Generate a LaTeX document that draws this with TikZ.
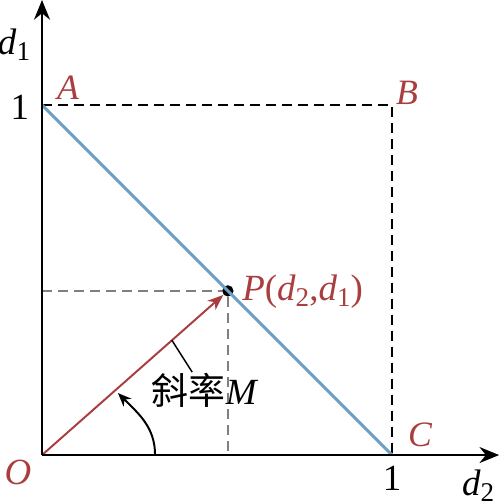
\documentclass[tikz,border=0pt]{standalone}
\usepackage{fontspec}
\setmainfont{Liberation Serif}
\newfontfamily\cjk{Noto Sans CJK SC}
\usepackage{tikz}
\usetikzlibrary{positioning,arrows.meta}
\definecolor{vecred}{RGB}{170,62,62}
\definecolor{lineblue}{RGB}{110,160,196}
\newcommand{\low}[1]{\raisebox{-0.35ex}{\fontsize{11}{12}\selectfont #1}}

\begin{document}
\begin{tikzpicture}[x=5cm, y=5cm, font=\fontsize{15}{17}\selectfont, inner sep=0pt,
        axis/.style = {draw, line width=0.8pt, -{Stealth[length=8pt, width=6.5pt]}},
        box/.style = {draw, line width=0.6pt, dash pattern=on 4pt off 2.5pt},
        proj/.style = {draw, gray, line width=0.6pt, dash pattern=on 4pt off 2.5pt},
        corner/.style = {text=vecred, font=\fontsize{14.5}{17}\selectfont\itshape}]
    \useasboundingbox (-0.12,-0.137) rectangle (1.306,1.3);
    \coordinate (O) at (0,0);
    \coordinate (A) at (0,1);
    \coordinate (B) at (1,1);
    \coordinate (C) at (1,0);
    \coordinate (X) at (1.306,0);
    \coordinate (Y) at (0,1.3);
    \node[circle, fill, minimum size=4.6pt] (P) at (0.531,0.469) {};
    \coordinate (Px) at (0.531,0);
    \coordinate (Py) at (0,0.469);

    \draw[box] (A) -- (B) -- (C);
    \draw[proj] (Py) -- (P) -- (Px);
    \draw[lineblue, line width=1.2pt] (A) -- (C);
    \draw[vecred, line width=0.8pt, -{Stealth[length=6.5pt, width=5pt]}] (O) -- (P);
    \draw[axis] (O) -- (X);
    \draw[axis] (O) -- (Y);

    \node (d1) at (-0.08,1.171) {\textit{d}\low{1}};
    \node (d2) at (1.246,-0.088) {\textit{d}\low{2}};
    \node (one1) at (-0.063,0.994) {1};
    \node (one2) at (1.0,-0.066) {1};
    \node[corner, font=\fontsize{15}{17}\selectfont\itshape] (o) at (-0.069,-0.049) {O};
    \node[corner] (a) at (0.074,1.049) {A};
    \node[corner] (b) at (1.043,1.034) {B};
    \node[corner] (c) at (1.08,0.057) {C};
    \node[text=vecred, anchor=west] (p) at (0.571,0.466) {\textit{P}(\textit{d}\low{2},\textit{d}\low{1})};

    \node (slope) at (0.466,0.186) {{\cjk 斜率}\textit{M}};
    \coordinate (M) at (0.371,0.328);
    \coordinate (Mend) at (0.429,0.237);
    \draw[line width=0.6pt] (M) -- (Mend);
    \coordinate (s) at (0.323,0);
    \coordinate (e) at (0.217,0.177);
    \draw[line width=0.8pt, -{Stealth[length=5.5pt, width=4.5pt]}] (s) to[out=90, in=-45] (e);
\end{tikzpicture}
\end{document}
